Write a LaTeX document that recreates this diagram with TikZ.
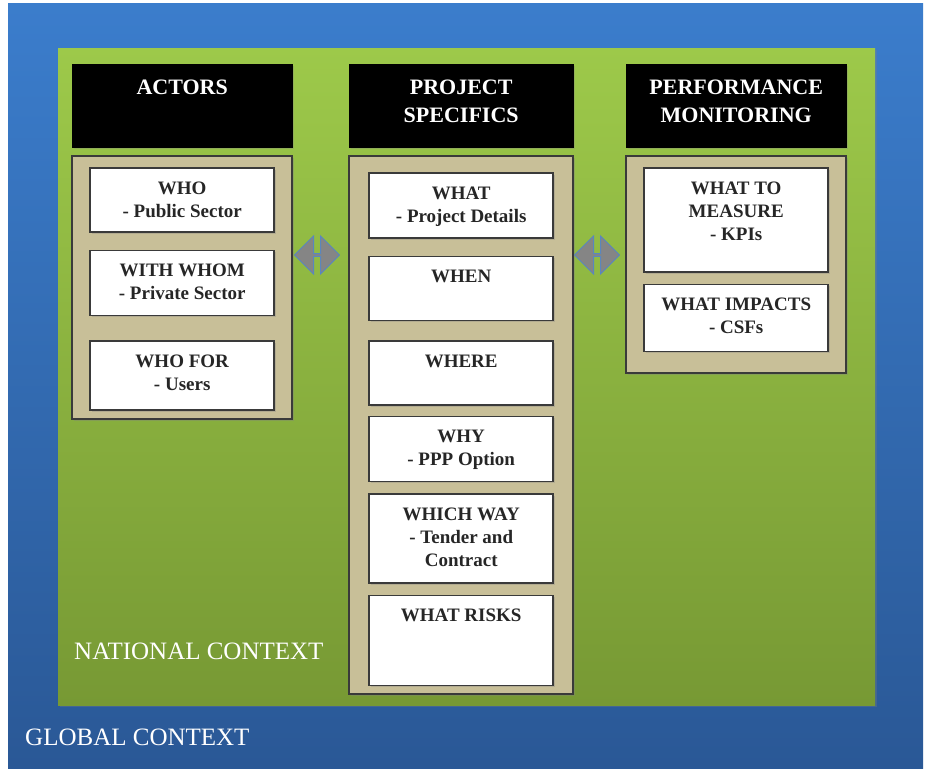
\documentclass[tikz,border=0pt]{standalone}
\usepackage{fontspec}
\setmainfont{Liberation Serif}
\usetikzlibrary{positioning}
\usetikzlibrary{shapes.arrows}
\usetikzlibrary{shadows}
\definecolor{globaltop}{HTML}{3B7DCC}
\definecolor{globalbot}{HTML}{2A5896}
\definecolor{nationaltop}{HTML}{9DC94A}
\definecolor{nationalbot}{HTML}{779934}
\definecolor{tanfill}{HTML}{C8BF98}
\definecolor{framegray}{HTML}{3A3A3A}
\definecolor{arrowgray}{HTML}{858585}
\definecolor{arrowedge}{HTML}{5A86BE}

\begin{document}
\begin{tikzpicture}[x=1pt, y=-1pt, node distance=12pt, every node/.style={font=\bfseries\fontsize{19}{23}\selectfont}]
  % compact, consistent block styles
  \tikzset{head/.style={draw=black, fill=black, minimum width=220pt, minimum height=83pt, anchor=north west, inner sep=0pt, drop shadow={shadow xshift=1.5pt, shadow yshift=-1.5pt, opacity=0.3}}}
  \tikzset{headtext/.style={text=white, align=center, inner sep=0pt, font=\bfseries\fontsize{22}{28}\selectfont}}
  \tikzset{column/.style={draw=framegray, fill=tanfill, line width=1.5pt, minimum width=220pt, inner sep=0pt, drop shadow={shadow xshift=1.5pt, shadow yshift=-1.5pt, opacity=0.35}}}
  \tikzset{cell/.style={draw=framegray, fill=white, line width=1.5pt, minimum width=184pt, inner sep=0pt, drop shadow={shadow xshift=1.5pt, shadow yshift=-1.5pt, opacity=0.3}}}
  \tikzset{celltext/.style={align=center, inner sep=0pt, text=black!85}}
  \tikzset{ctx/.style={text=white, inner sep=0pt, anchor=base west, font=\fontsize{25}{30}\selectfont}}
  \tikzset{dblarrow/.style={double arrow, double arrow head extend=7pt, minimum height=45pt, minimum width=38pt, inner sep=0pt, fill=arrowgray, draw=arrowedge, line width=1pt}}

  % contexts
  \useasboundingbox (0,0) rectangle (931,772);
  \fill[top color=globaltop, bottom color=globalbot] (8,3) rectangle (923,768);
  \fill[top color=nationaltop, bottom color=nationalbot, drop shadow={shadow xshift=2pt, shadow yshift=-2pt, opacity=0.3}] (58,48) rectangle (875,705);

  % column headers
  \node[head] (acthead) at (72,64) {};
  \node[head, minimum width=224pt] (projhead) at (349,64) {};
  \node[head] (perfhead) at (626,64) {};
  \node[headtext, below=16pt of acthead.north] (acthead-t) {ACTORS};
  \node[headtext, below=16pt of projhead.north] (projhead-t) {PROJECT\\SPECIFICS};
  \node[headtext, below=16pt of perfhead.north] (perfhead-t) {PERFORMANCE\\MONITORING};

  % column bodies
  \node[column, below=8pt of acthead, minimum height=263pt] (actbody) {};
  \node[column, below=8pt of projhead, minimum width=224pt, minimum height=538pt] (projbody) {};
  \node[column, below=8pt of perfhead, minimum height=217pt] (perfbody) {};

  % actors
  \node[cell, below=12pt of actbody.north, minimum height=64pt] (who) {};
  \node[cell, below=17pt of who, minimum height=65pt] (whom) {};
  \node[cell, below=24pt of whom, minimum height=69pt] (whofor) {};
  \node[celltext, below=14pt of who.north] (who-t) {WHO\\- Public Sector};
  \node[celltext, below=14pt of whom.north] (whom-t) {WITH WHOM\\- Private Sector};
  \node[celltext, below=14pt of whofor.north] (whofor-t) {WHO FOR\\- Users};

  % project specifics
  \node[cell, below=17pt of projbody.north, minimum height=65pt] (what) {};
  \node[cell, below=17pt of what, minimum height=64pt] (when) {};
  \node[cell, below=19pt of when, minimum height=64pt] (where) {};
  \node[cell, below=10pt of where, minimum height=65pt] (why) {};
  \node[cell, below=11pt of why, minimum height=89pt] (whichway) {};
  \node[cell, below=11pt of whichway, minimum height=90pt] (risks) {};
  \node[celltext, below=14pt of what.north] (what-t) {WHAT\\- Project Details};
  \node[celltext, below=14pt of when.north] (when-t) {WHEN};
  \node[celltext, below=14pt of where.north] (where-t) {WHERE};
  \node[celltext, below=14pt of why.north] (why-t) {WHY\\- PPP Option};
  \node[celltext, below=14pt of whichway.north] (whichway-t) {WHICH WAY\\- Tender and\\Contract};
  \node[celltext, below=14pt of risks.north] (risks-t) {WHAT RISKS};

  % performance monitoring
  \node[cell, below=12pt of perfbody.north, minimum height=104pt] (measure) {};
  \node[cell, below=11pt of measure, minimum height=67pt] (impacts) {};
  \node[celltext, below=14pt of measure.north] (measure-t) {WHAT TO\\MEASURE\\- KPIs};
  \node[celltext, below=14pt of impacts.north] (impacts-t) {WHAT IMPACTS\\- CSFs};

  % links between columns
  \node[dblarrow] (linkA) at (317,255) {};
  \node[dblarrow] (linkB) at (597,255) {};

  % context labels
  \node[ctx] (national) at (74,659) {NATIONAL CONTEXT};
  \node[ctx] (global) at (25,745) {GLOBAL CONTEXT};
\end{tikzpicture}
\end{document}
